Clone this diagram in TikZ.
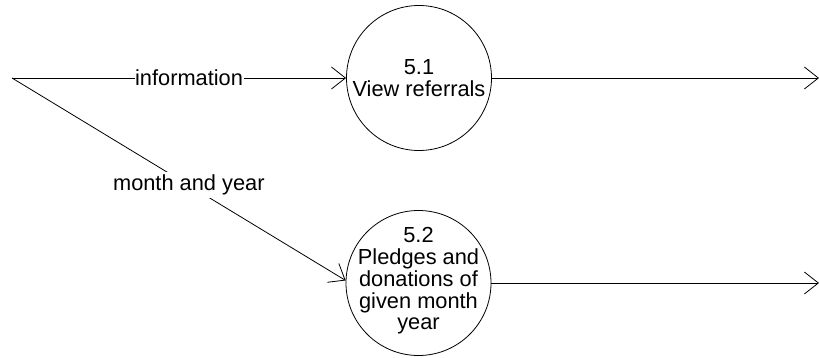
\documentclass[tikz,border=0pt]{standalone}
\usepackage{fontspec}
\setmainfont{Liberation Sans}
\usetikzlibrary{arrows.meta}
\begin{document}
\begin{tikzpicture}[x=1pt,y=1pt,
  labelfont/.style={font=\fontsize{21.8}{21.8}\selectfont},
  every node/.style={labelfont},
  process/.style={circle,draw,line width=0.8pt,minimum size=145pt,inner sep=0pt},
  flow/.style={draw,line width=0.8pt,-{Straight Barb[length=14pt,width=22pt,line width=0.8pt]}},
  flowlabel/.style={fill=white,inner sep=0.6pt}]
\useasboundingbox (0,0) rectangle (819,357);

% external source point
\coordinate (src) at (12,279);

% processes
\node[process,label={[align=center,labelfont]center:5.1\\View referrals}] (c1) at (419,279) {};
\node[process,label={[align=center,labelfont,yshift=2pt]center:5.2\\Pledges and\\donations of\\given month\\year}] (c2) at (418.5,74) {};

% outgoing flow ends
\coordinate (o1) at (819,279);
\coordinate (o2) at (819,74);

% data flows
\draw[flow] (src) -- node[flowlabel,pos=0.53] (l1) {information} (c1.west);
\draw[flow] (src) -- node[flowlabel,pos=0.53,inner sep=3pt] (l2) {month and year} (c2.178);
\draw[flow] (c1.east) -- (o1);
\draw[flow] (c2.east) -- (o2);
\end{tikzpicture}
\end{document}
